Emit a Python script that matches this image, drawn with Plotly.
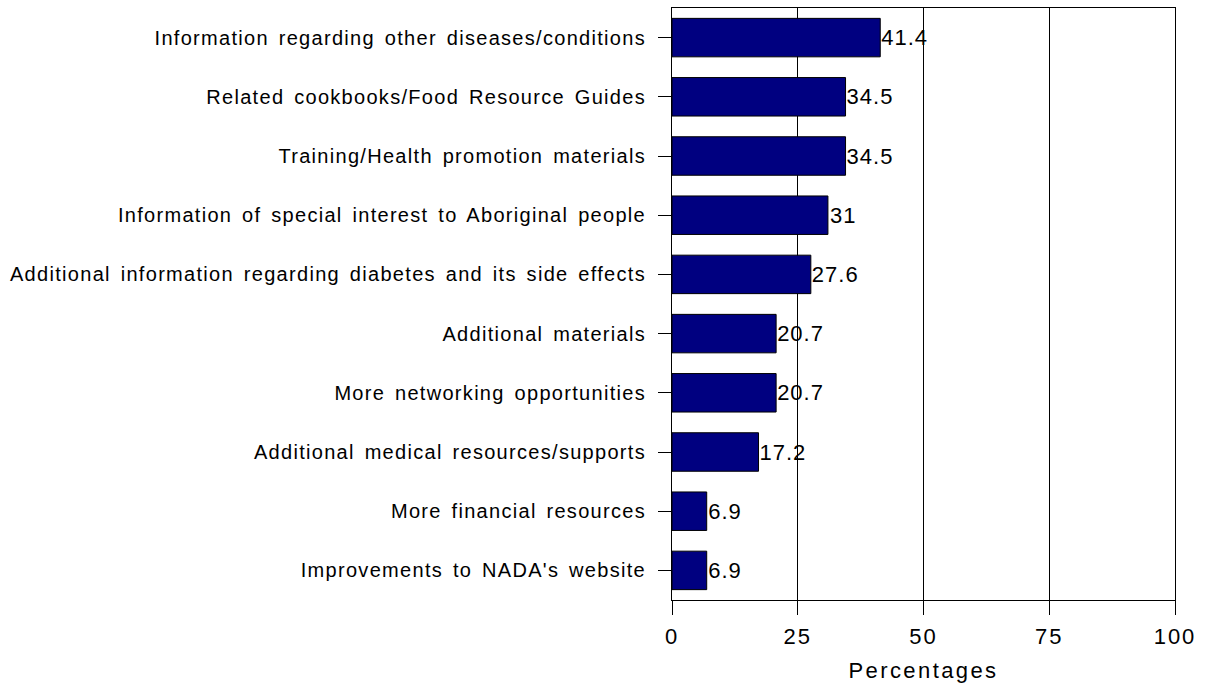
import plotly.graph_objects as go

categories = [
    "Information regarding other diseases/conditions",
    "Related cookbooks/Food Resource Guides",
    "Training/Health promotion materials",
    "Information of special interest to Aboriginal people",
    "Additional information regarding diabetes and its side effects",
    "Additional materials",
    "More networking opportunities",
    "Additional medical resources/supports",
    "More financial resources",
    "Improvements to NADA's website",
]
values = [41.4, 34.5, 34.5, 31, 27.6, 20.7, 20.7, 17.2, 6.9, 6.9]
x_ticks = [0, 25, 50, 75, 100]

font_family = "Liberation Sans, Arial, sans-serif"

fig = go.Figure(
    go.Bar(
        x=values,
        y=categories,
        orientation="h",
        marker=dict(color="#000080", line=dict(color="#000000", width=1)),
        text=[f"{v:g}" for v in values],
        textposition="outside",
        textfont=dict(family=font_family, size=22, color="#000000"),
        cliponaxis=False,
        width=0.65,
    )
)

fig.update_layout(
    width=1205,
    height=685,
    margin=dict(l=672, r=30, t=8, b=85, autoexpand=False),
    paper_bgcolor="#ffffff",
    plot_bgcolor="#ffffff",
    showlegend=False,
    font=dict(family=font_family, color="#000000"),
)

fig.update_xaxes(
    range=[0, 100],
    tickvals=x_ticks,
    ticktext=[str(t) for t in x_ticks],
    tickfont=dict(family=font_family, size=22),
    showgrid=True,
    gridcolor="#000000",
    gridwidth=1,
    ticks="outside",
    ticklen=14,
    tickcolor="#000000",
    showline=True,
    linecolor="#000000",
    linewidth=1,
    mirror=True,
    zeroline=False,
    automargin=False,
    ticklabelstandoff=3,
    title=dict(text="Percentages", font=dict(family=font_family, size=22), standoff=14),
)

fig.update_yaxes(
    categoryorder="array",
    categoryarray=categories[::-1],
    tickfont=dict(family=font_family, size=20),
    ticks="outside",
    ticklen=13,
    tickcolor="#000000",
    showline=True,
    linecolor="#000000",
    linewidth=1,
    mirror=True,
    showgrid=False,
    automargin=False,
    ticklabelstandoff=8,
)

# Widen the glyph spacing of the labels for the classic spreadsheet look
spacing_js = """
var gd = document.getElementById('{plot_id}');
function spread(sel, ls, ws) {
  gd.querySelectorAll(sel).forEach(function (t) {
    t.style.letterSpacing = ls;
    t.style.wordSpacing = ws;
  });
}
spread('.ytick text', '1.3px', '3px');
spread('.xtick text', '2px', '0px');
spread('.g-xtitle text', '2.4px', '0px');
spread('text.bartext', '1px', '0px');
"""

fig.write_html("out.html", post_script=spacing_js)
